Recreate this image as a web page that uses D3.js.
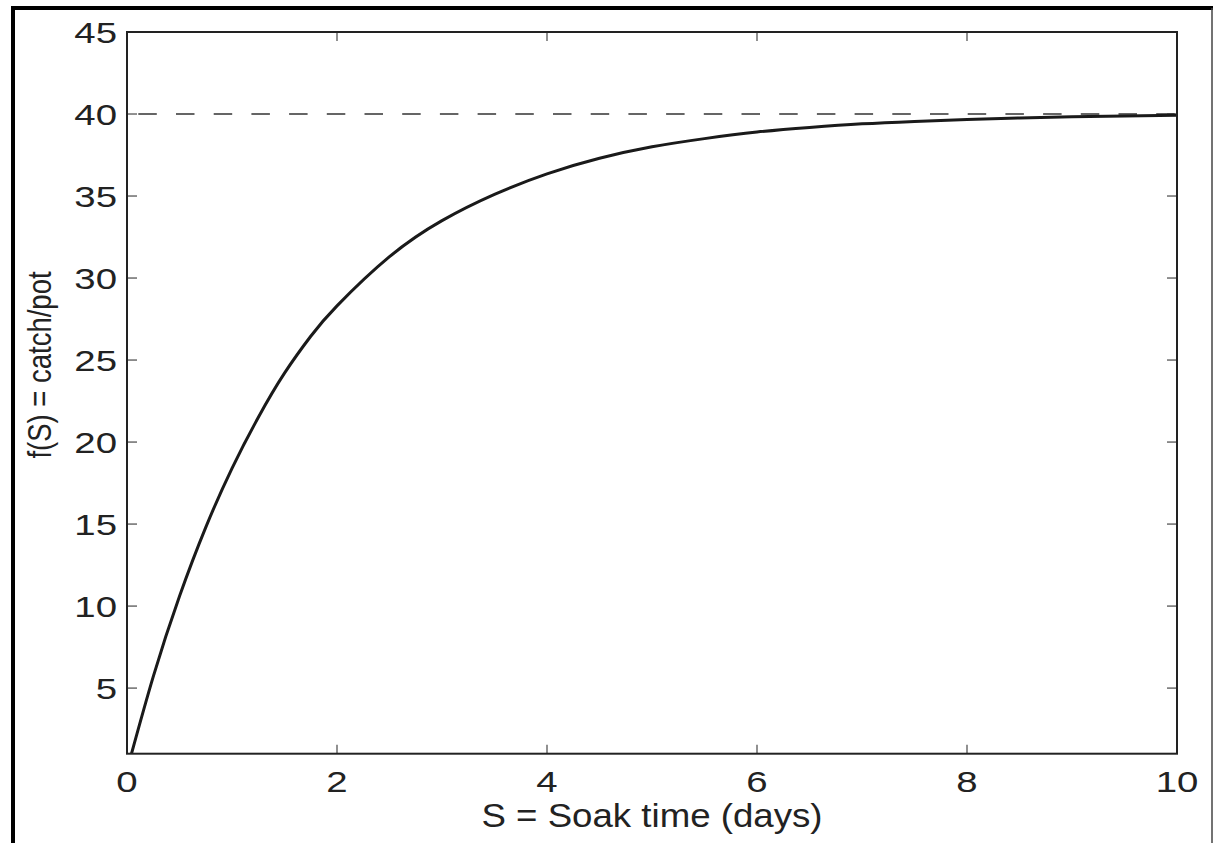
<html>
<head>
    <style>
        body { margin: 0; background: white; }
        text { font-family: "Liberation Sans", Arial, sans-serif; fill: #222; }
    </style>
</head>
<body>
    <svg id="container" width="1215" height="843"></svg>
</body>
<script src="https://cdn.jsdelivr.net/npm/d3@7"></script>
<script>
    // soak time (days) and catch per pot
    let soakDays = [0, 0.25, 0.5, 0.75, 1.0, 1.25, 1.5, 1.75, 2.0, 2.5, 3.0, 3.5, 4.0, 4.5, 5.0,
        5.5, 6.0, 6.5, 7.0, 7.5, 8.0, 8.5, 9.0, 9.5, 10]
    let catchPerPot = [0, 5.7, 10.6, 14.8, 18.4, 21.5, 24.2, 26.45, 28.3, 31.3, 33.5, 35.1, 36.35, 37.3, 38.0,
        38.5, 38.9, 39.18, 39.4, 39.55, 39.67, 39.76, 39.83, 39.88, 39.92]
    let asymptote = 40
    let xTicks = [0, 2, 4, 6, 8, 10]
    let yTicks = [5, 10, 15, 20, 25, 30, 35, 40, 45]

    let svg = d3.select("#container")
    let plotLeft = 127, plotTop = 32, plotRight = 1177, plotBottom = 753.7

    let x = d3.scaleLinear().domain([0, 10]).range([plotLeft, plotRight])
    let y = d3.scaleLinear().domain([1, 45]).range([plotBottom, plotTop])

    // outer frame
    svg.append("rect").attr("x", 11).attr("y", 6).attr("width", 1202).attr("height", 4).attr("fill", "#000")
    svg.append("rect").attr("x", 11).attr("y", 6).attr("width", 4).attr("height", 837).attr("fill", "#000")
    svg.append("line").attr("x1", 1212).attr("x2", 1212).attr("y1", 8).attr("y2", 843)
        .attr("stroke", "#444").attr("stroke-width", 1.5)

    svg.append("clipPath").attr("id", "plot")
        .append("rect").attr("x", plotLeft).attr("y", plotTop)
        .attr("width", plotRight - plotLeft).attr("height", plotBottom - plotTop)

    // inward ticks on all four sides
    let ticks = svg.append("g").attr("stroke", "#555").attr("stroke-width", 1.3)
    yTicks.filter(v => v > 1 && v < 45).forEach(v => {
        ticks.append("line").attr("x1", plotLeft).attr("x2", plotLeft + 10).attr("y1", y(v)).attr("y2", y(v))
        ticks.append("line").attr("x1", plotRight).attr("x2", plotRight - 10).attr("y1", y(v)).attr("y2", y(v))
    })
    xTicks.filter(v => v > 0 && v < 10).forEach(v => {
        ticks.append("line").attr("x1", x(v)).attr("x2", x(v)).attr("y1", plotBottom).attr("y2", plotBottom - 9)
        ticks.append("line").attr("x1", x(v)).attr("x2", x(v)).attr("y1", plotTop).attr("y2", plotTop + 9)
    })

    // dashed asymptote
    svg.append("line")
        .attr("x1", x(0)).attr("x2", x(10)).attr("y1", y(asymptote)).attr("y2", y(asymptote))
        .attr("stroke", "#333").attr("stroke-width", 1.3)
        .attr("stroke-dasharray", "18.5,19.2").attr("stroke-dashoffset", 26.4)

    // catch curve
    let line = d3.line().x((d, i) => x(soakDays[i])).y(d => y(d)).curve(d3.curveNatural)
    svg.append("path")
        .attr("d", line(catchPerPot))
        .attr("clip-path", "url(#plot)")
        .attr("fill", "none").attr("stroke", "#1a1a1a").attr("stroke-width", 3)

    // axes box
    svg.append("rect").attr("x", plotLeft).attr("y", plotTop)
        .attr("width", plotRight - plotLeft).attr("height", plotBottom - plotTop)
        .attr("fill", "none").attr("stroke", "#222").attr("stroke-width", 2)

    // tick labels (the figure's text is stretched horizontally)
    yTicks.forEach(v => {
        svg.append("text").text(v)
            .attr("transform", `translate(117,${y(v)}) scale(1.28,1)`)
            .attr("text-anchor", "end").attr("dy", "0.36em").attr("font-size", 30)
    })
    xTicks.forEach(v => {
        svg.append("text").text(v)
            .attr("transform", `translate(${x(v)},792) scale(1.28,1)`)
            .attr("text-anchor", "middle").attr("font-size", 30)
    })

    svg.append("text").text("S = Soak time (days)")
        .attr("x", 652).attr("y", 826.5).attr("text-anchor", "middle").attr("font-size", 33)
        .attr("textLength", 341).attr("lengthAdjust", "spacingAndGlyphs")

    svg.append("text").text("f(S) = catch/pot")
        .attr("transform", "translate(51,365) scale(1.2,1) rotate(-90)")
        .attr("text-anchor", "middle").attr("font-size", 27.5)
</script>
</html>
